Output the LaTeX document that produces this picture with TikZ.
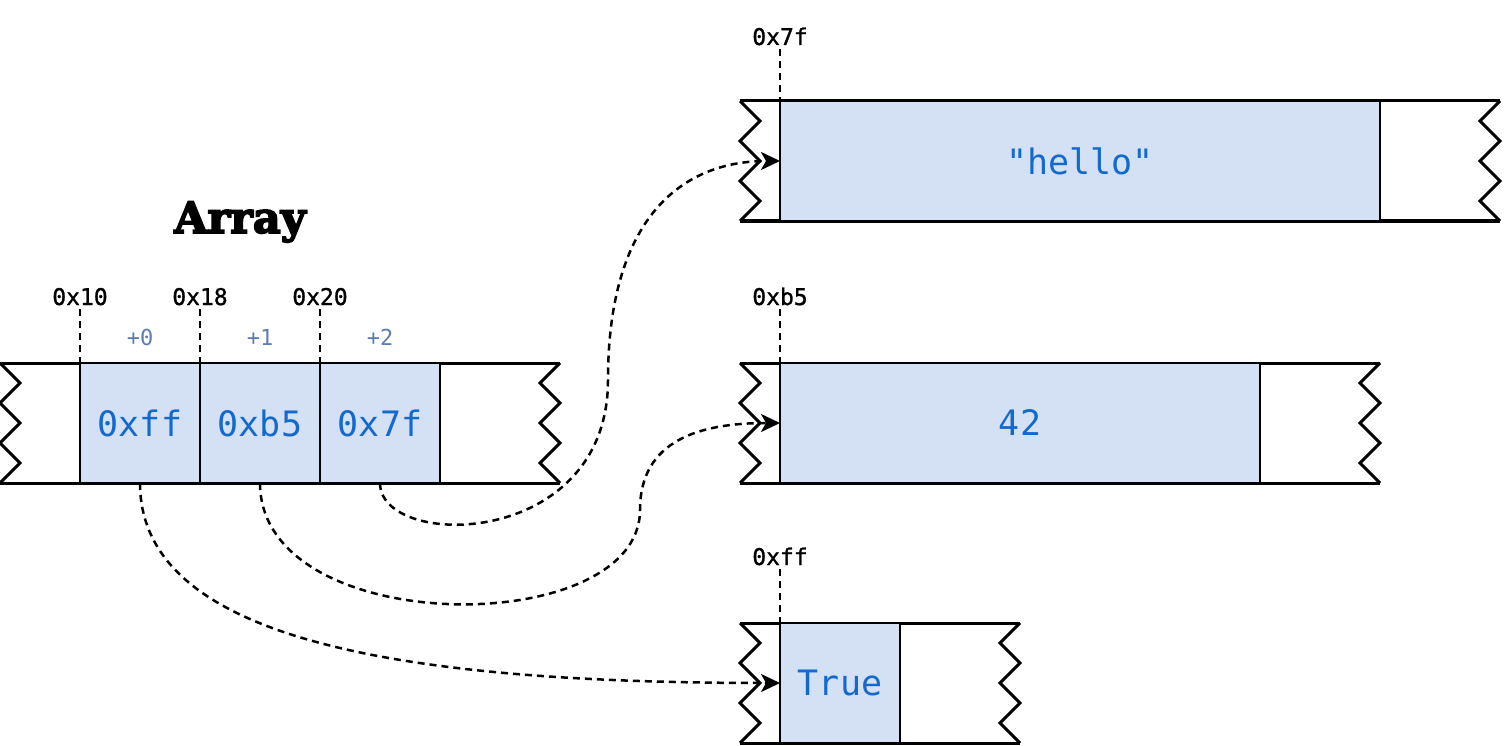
\documentclass[tikz,border=0pt]{standalone}
\usepackage{fontspec}
\usetikzlibrary{arrows.meta}
\newfontfamily\monofont{DejaVu Sans Mono}
\newfontfamily\addrfont[FakeBold=1.2]{DejaVu Sans Mono}
\newfontfamily\titlefont[BoldFeatures={FakeBold=4}]{DejaVu Serif}
\definecolor{cellfill}{HTML}{D4E1F5}
\definecolor{celltext}{HTML}{1469CC}
\definecolor{offtext}{HTML}{5B7DB1}
\newcommand\memstrip[3]{%
  \draw[strip] (#1,#3) -- (#2,#3);
  \draw[strip] (#1,#3+120) -- (#2,#3+120);
  \draw[strip] (#1,#3) -- ++(20,20) -- ++(-20,20) -- ++(20,20) -- ++(-20,20) -- ++(20,20) -- ++(-20,20);
  \draw[strip] (#2,#3) -- ++(-20,20) -- ++(20,20) -- ++(-20,20) -- ++(20,20) -- ++(-20,20) -- ++(20,20);
}
\begin{document}
\begin{tikzpicture}[x=1pt,y=-1pt,
  strip/.style={draw=black,line width=3pt,line join=miter},
  cell/.style={draw=black,line width=2.8pt,fill=cellfill,minimum height=120pt,inner sep=0pt,
    outer sep=0pt,text=celltext,font=\monofont\fontsize{35}{35}\selectfont},
  addr/.style={anchor=base,inner sep=4pt,text depth=0pt,font=\addrfont\fontsize{23}{23}\selectfont},
  offs/.style={text=offtext,font=\monofont\fontsize{22}{22}\selectfont},
  tick/.style={draw=black,line width=2.5pt,dash pattern=on 7pt off 5pt},
  link/.style={draw=black,line width=2.5pt,dash pattern=on 7pt off 5pt,
    -{Stealth[length=19pt,width=18pt,inset=5pt]}},
]
\path[use as bounding box,fill=white] (0,0) rectangle (1504,746);

% Array strip
\memstrip{0}{560}{363}
\node[cell,minimum width=120pt] (a0) at (140,423) {0xff};
\node[cell,minimum width=120pt] (a1) at (260,423) {0xb5};
\node[cell,minimum width=120pt] (a2) at (380,423) {0x7f};

\node[font=\titlefont\bfseries\fontsize{43}{43}\selectfont] (title) at (240,222) {Array};

\node[addr] (l10) at (80,305) {0x10};
\node[addr] (l18) at (200,305) {0x18};
\node[addr] (l20) at (320,305) {0x20};
\draw[tick] (l10.south) -- (a0.north west);
\draw[tick] (l18.south) -- (a1.north west);
\draw[tick] (l20.south) -- (a2.north west);
\node[offs] (o0) at (140,337) {+0};
\node[offs] (o1) at (260,337) {+1};
\node[offs] (o2) at (380,337) {+2};

% hello strip
\memstrip{740}{1500}{101}
\node[cell,minimum width=600pt] (hs) at (1080,161) {"hello"};
\node[addr] (l7f) at (780,45) {0x7f};
\draw[tick] (l7f.south) -- (hs.north west);

% 42 strip
\memstrip{740}{1380}{363}
\node[cell,minimum width=480pt] (n42) at (1020,423) {42};
\node[addr] (lb5) at (780,305) {0xb5};
\draw[tick] (lb5.south) -- (n42.north west);

% True strip
\memstrip{740}{1020}{623}
\node[cell,minimum width=120pt] (tr) at (840,683) {True};
\node[addr] (lff) at (780,565) {0xff};
\draw[tick] (lff.south) -- (tr.north west);

% links
\draw[link] (a2.south) .. controls (380,550) and (608,550) .. (608,380)
  .. controls (608,220) and (680,161) .. (hs.west);
\draw[link] (a1.south) .. controls (260,640) and (640,640) .. (640,510)
  .. controls (640,440) and (700,423) .. (n42.west);
\draw[link] (a0.south) .. controls (140,640) and (400,683) .. (tr.west);
\end{tikzpicture}
\end{document}
